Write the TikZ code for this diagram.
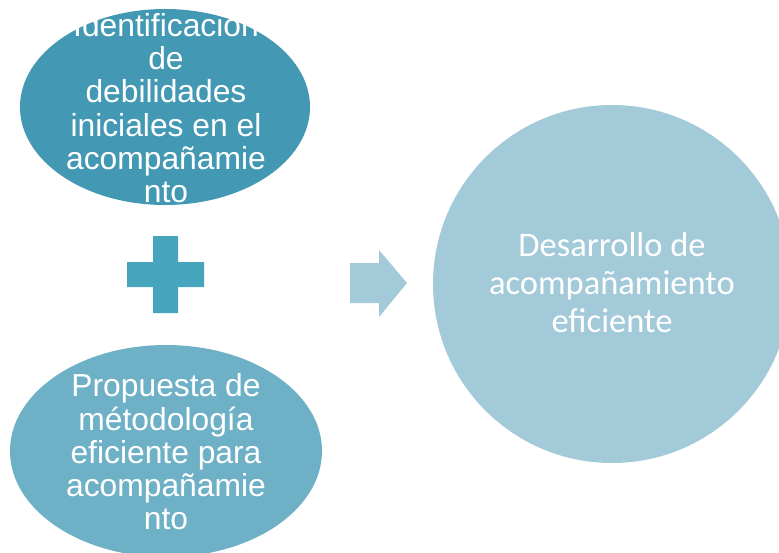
\documentclass[tikz,border=0pt]{standalone}
\usepackage{fontspec}
\setmainfont{Liberation Sans}
\newfontfamily\carlitofont{Carlito}
\usetikzlibrary{shapes.geometric}
\definecolor{tealdark}{RGB}{67,153,179}
\definecolor{tealplus}{RGB}{70,164,189}
\definecolor{tealmid}{RGB}{110,177,199}
\definecolor{teallight}{RGB}{163,202,217}
\tikzset{
  blob/.style={ellipse, inner sep=0pt, draw=none},
  blobtext/.style={text=white, align=center, inner sep=0pt,
    font=\fontsize{31.8}{33.2}\selectfont},
  circtext/.style={text=white, align=center, inner sep=0pt,
    font=\carlitofont\fontsize{34.5}{38}\selectfont},
}
\begin{document}
\begin{tikzpicture}[x=1pt,y=-1pt]
\useasboundingbox (0,0) rectangle (779,552);
\clip (0,0) rectangle (779,552);
\fill[white] (0,0) rectangle (779,552);
% top ellipse
\node[blob, fill=tealdark, minimum width=290pt, minimum height=196pt] (e1) at (165,107) {};
\node[blobtext] (t1) at (166,108) {Identificación\\de\\debilidades\\iniciales en el\\acompañamie\\nto};
% plus
\fill[tealplus] (153,236) -- (178,236) -- (178,262) -- (204,262) -- (204,287) -- (178,287) -- (178,313) -- (153,313) -- (153,287) -- (127,287) -- (127,262) -- (153,262) -- cycle;
% bottom ellipse
\node[blob, fill=tealmid, minimum width=312pt, minimum height=212pt] (e2) at (166,451) {};
\node[blobtext] (t2) at (166,452) {Propuesta de\\métodología\\eficiente para\\acompañamie\\nto};
% arrow
\fill[teallight] (350,263) -- (379,263) -- (379,250) -- (407,283) -- (379,317) -- (379,303) -- (350,303) -- cycle;
% circle
\node[circle, fill=teallight, minimum size=358pt, inner sep=0pt] (c) at (612,284) {};
\node[circtext] (ct) at (612,283) {Desarrollo de\\acompañamiento\\eficiente};
\end{tikzpicture}
\end{document}
